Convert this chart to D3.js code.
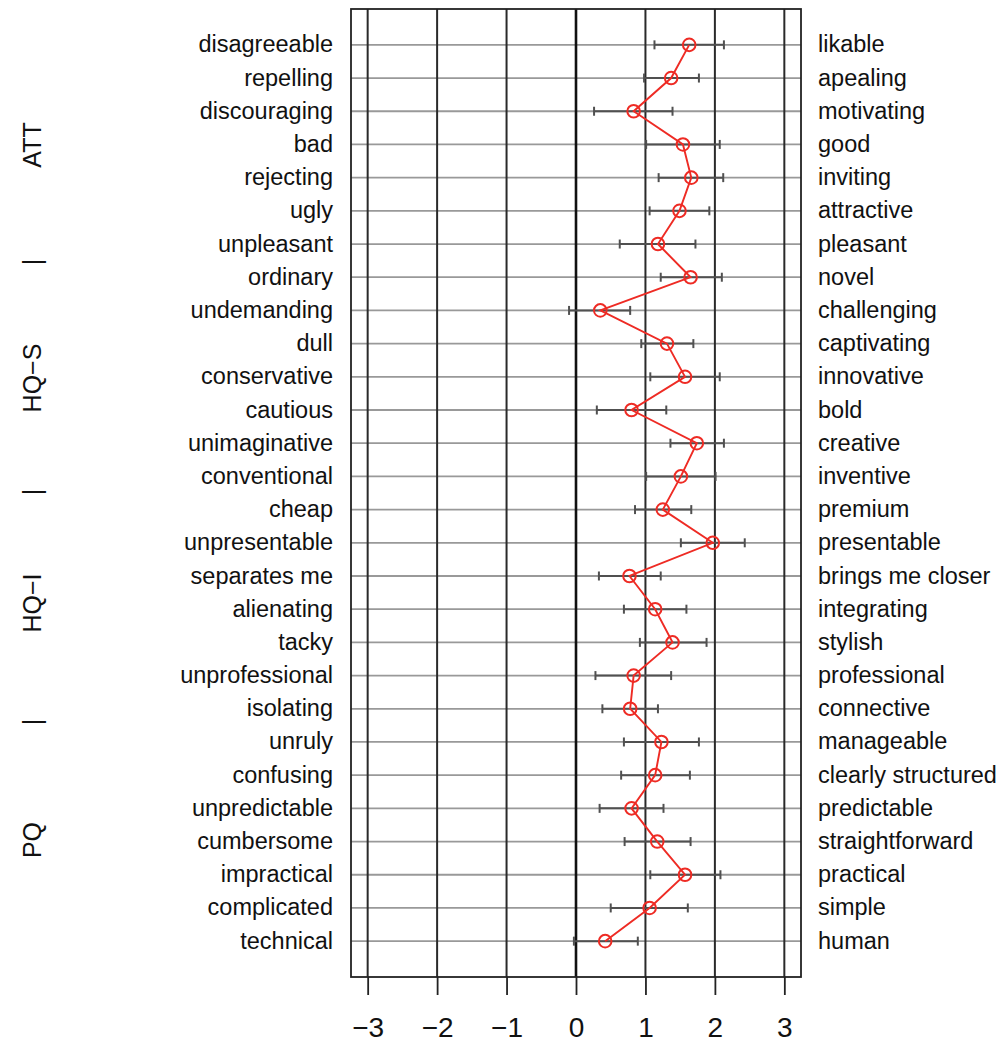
<!DOCTYPE html>
<html>
<head>
<meta charset="utf-8">
<script src="https://cdn.jsdelivr.net/npm/d3@7"></script>
<style>
  body { margin: 0; background: #fff; }
  svg { display: block; font-family: "Liberation Sans", Arial, Helvetica, sans-serif; }
</style>
</head>
<body>
<div id="chart"></div>
<script>
// semantic differential: left pole, right pole, mean and interval
var leftLabels = ["disagreeable", "repelling", "discouraging", "bad", "rejecting", "ugly", "unpleasant",
	"ordinary", "undemanding", "dull", "conservative", "cautious", "unimaginative", "conventional",
	"cheap", "unpresentable", "separates me", "alienating", "tacky", "unprofessional", "isolating",
	"unruly", "confusing", "unpredictable", "cumbersome", "impractical", "complicated", "technical"];
var rightLabels = ["likable", "apealing", "motivating", "good", "inviting", "attractive", "pleasant",
	"novel", "challenging", "captivating", "innovative", "bold", "creative", "inventive",
	"premium", "presentable", "brings me closer", "integrating", "stylish", "professional", "connective",
	"manageable", "clearly structured", "predictable", "straightforward", "practical", "simple", "human"];
var means = [1.63, 1.37, 0.83, 1.54, 1.66, 1.49, 1.18, 1.65, 0.35, 1.31, 1.57, 0.80, 1.74, 1.51,
	1.25, 1.97, 0.77, 1.14, 1.39, 0.83, 0.78, 1.23, 1.14, 0.80, 1.17, 1.57, 1.06, 0.42];
var lower = [1.13, 0.98, 0.26, 1.01, 1.19, 1.06, 0.63, 1.22, -0.10, 0.94, 1.07, 0.30, 1.36, 1.01,
	0.85, 1.51, 0.33, 0.69, 0.92, 0.28, 0.38, 0.69, 0.65, 0.34, 0.70, 1.07, 0.50, -0.03];
var upper = [2.13, 1.77, 1.39, 2.07, 2.12, 1.92, 1.72, 2.10, 0.78, 1.69, 2.07, 1.30, 2.13, 2.01,
	1.66, 2.43, 1.22, 1.59, 1.88, 1.37, 1.18, 1.77, 1.64, 1.26, 1.65, 2.08, 1.61, 0.89];
var xTicks = [-3, -2, -1, 0, 1, 2, 3];
var groups = [
	{ label: "ATT", y: 145 },
	{ label: "|", y: 262 },
	{ label: "HQ\u2212S", y: 378 },
	{ label: "|", y: 492 },
	{ label: "HQ\u2212I", y: 603 },
	{ label: "|", y: 722 },
	{ label: "PQ", y: 840 }
];

var W = 1006, H = 1045;
var box = { left: 351, right: 801, top: 9, bottom: 977 };

var svg = d3.select("#chart").append("svg")
	.attr("width", W)
	.attr("height", H);

var n = means.length;
var x = d3.scaleLinear().domain([-3.24, 3.24]).range([box.left, box.right]);
var y = d3.scaleLinear().domain([1 - 0.04 * (n - 1), n + 0.04 * (n - 1)]).range([box.top, box.bottom]);

var rows = d3.range(n);

// horizontal grid
svg.append("g").selectAll("line")
	.data(rows)
	.join("line")
	.attr("x1", box.left).attr("x2", box.right)
	.attr("y1", (d) => y(d + 1)).attr("y2", (d) => y(d + 1))
	.attr("stroke", "#999")
	.attr("stroke-width", 1.8);

// vertical grid
svg.append("g").selectAll("line")
	.data(xTicks)
	.join("line")
	.attr("x1", (d) => x(d)).attr("x2", (d) => x(d))
	.attr("y1", box.top).attr("y2", box.bottom)
	.attr("stroke", (d) => d == 0 ? "#111" : "#2a2a2a")
	.attr("stroke-width", (d) => d == 0 ? 2.6 : 2);

// frame
svg.append("rect")
	.attr("x", box.left).attr("y", box.top)
	.attr("width", box.right - box.left).attr("height", box.bottom - box.top)
	.attr("fill", "none")
	.attr("stroke", "#222")
	.attr("stroke-width", 1.8);

// x axis
var axis = svg.append("g")
	.attr("transform", "translate(0," + box.bottom + ")")
	.call(d3.axisBottom(x).tickValues(xTicks).tickSize(18).tickPadding(22)
		.tickFormat((d) => d < 0 ? "\u2212" + Math.abs(d) : d));
axis.select(".domain").remove();
axis.selectAll(".tick line").attr("stroke", "#222").attr("stroke-width", 1.8);
axis.selectAll(".tick text")
	.attr("font-size", 28)
	.attr("fill", "#111")
	.attr("font-family", "\"Liberation Sans\", Arial, sans-serif");

// error bars
var eb = svg.append("g").attr("stroke", "#505050").attr("stroke-width", 2);
eb.selectAll("line.bar")
	.data(rows)
	.join("line")
	.attr("class", "bar")
	.attr("x1", (d) => x(lower[d])).attr("x2", (d) => x(upper[d]))
	.attr("y1", (d) => y(d + 1)).attr("y2", (d) => y(d + 1));
eb.selectAll("line.capl")
	.data(rows)
	.join("line")
	.attr("class", "capl")
	.attr("x1", (d) => x(lower[d])).attr("x2", (d) => x(lower[d]))
	.attr("y1", (d) => y(d + 1) - 4.5).attr("y2", (d) => y(d + 1) + 4.5);
eb.selectAll("line.capu")
	.data(rows)
	.join("line")
	.attr("class", "capu")
	.attr("x1", (d) => x(upper[d])).attr("x2", (d) => x(upper[d]))
	.attr("y1", (d) => y(d + 1) - 4.5).attr("y2", (d) => y(d + 1) + 4.5);

// mean profile
var line = d3.line()
	.x((d) => x(means[d]))
	.y((d) => y(d + 1));

svg.append("path")
	.datum(rows)
	.attr("d", line)
	.attr("fill", "none")
	.attr("stroke", "#ee2b24")
	.attr("stroke-width", 1.9);

svg.append("g").selectAll("circle")
	.data(rows)
	.join("circle")
	.attr("cx", (d) => x(means[d]))
	.attr("cy", (d) => y(d + 1))
	.attr("r", 6.3)
	.attr("fill", "none")
	.attr("stroke", "#ee2b24")
	.attr("stroke-width", 2);

// pole labels
svg.append("g").selectAll("text")
	.data(rows)
	.join("text")
	.attr("x", 333)
	.attr("y", (d) => y(d + 1))
	.attr("dy", "0.32em")
	.attr("text-anchor", "end")
	.attr("font-size", 23.5)
	.attr("fill", "#111")
	.text((d) => leftLabels[d]);

svg.append("g").selectAll("text")
	.data(rows)
	.join("text")
	.attr("x", 818)
	.attr("y", (d) => y(d + 1))
	.attr("dy", "0.32em")
	.attr("font-size", 23.5)
	.attr("fill", "#111")
	.text((d) => rightLabels[d]);

// scale groups
svg.append("g").selectAll("text")
	.data(groups)
	.join("text")
	.attr("transform", (d) => "translate(41," + d.y + ") rotate(-90)")
	.attr("text-anchor", "middle")
	.attr("font-size", 25)
	.attr("fill", "#111")
	.text((d) => d.label);
</script>
</body>
</html>
